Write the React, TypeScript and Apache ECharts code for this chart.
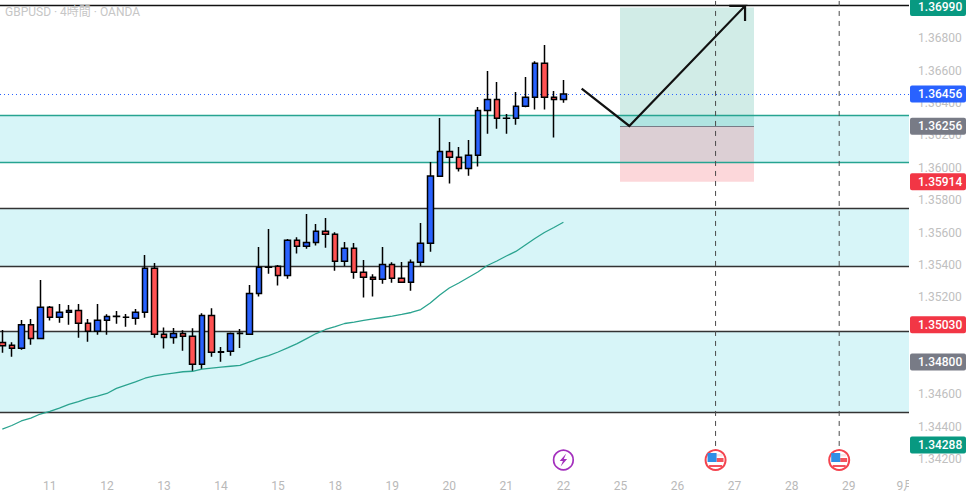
import React, { useEffect, useRef } from "react";
import * as echarts from "echarts";

const chartTitle = "GBPUSD · 4時間 · OANDA";
const dayTickLabels = ["11", "12", "13", "14", "15", "18", "19", "20", "21", "22", "25", "26", "27", "28", "29", "9月"];
const dayTickBars = [5, 11, 17, 23, 29, 35, 41, 47, 53, 59, 65, 71, 77, 83, 89, 95];
const priceTicks = [1.368, 1.366, 1.364, 1.362, 1.36, 1.358, 1.356, 1.354, 1.352, 1.346, 1.344, 1.342];

const opens = [
  1.3492, 1.34903, 1.34885, 1.35031, 1.34946, 1.35138, 1.35076, 1.35107, 1.35119, 1.35039,
  1.3499, 1.35058, 1.35082, 1.35076, 1.3507, 1.35107, 1.35379, 1.34971, 1.34952, 1.34977,
  1.34959, 1.34786, 1.35088, 1.3486, 1.34866, 1.34977, 1.34971, 1.35224, 1.35385, 1.35391,
  1.35335, 1.35552, 1.35515, 1.35539, 1.35607, 1.35589, 1.35422, 1.35502, 1.35354, 1.35323,
  1.35311, 1.35403, 1.35317, 1.35292, 1.35416, 1.35533, 1.35947, 1.36101, 1.36064, 1.35996,
  1.36077, 1.36354, 1.36422, 1.36305, 1.36305, 1.36379, 1.36435, 1.36645, 1.36435, 1.36422,
];
const closes = [
  1.34901, 1.34885, 1.35031, 1.34946, 1.35138, 1.35076, 1.35107, 1.35119, 1.35039, 1.3499,
  1.35058, 1.35082, 1.35083, 1.35077, 1.35107, 1.35379, 1.34971, 1.34952, 1.34977, 1.34959,
  1.34786, 1.35088, 1.3486, 1.34864, 1.34977, 1.34978, 1.35224, 1.35385, 1.35386, 1.35335,
  1.35552, 1.35515, 1.35539, 1.35607, 1.35589, 1.35422, 1.35502, 1.35354, 1.35323, 1.35311,
  1.35403, 1.35317, 1.35292, 1.35416, 1.35533, 1.35949, 1.36101, 1.36064, 1.35996, 1.36077,
  1.36354, 1.36422, 1.36305, 1.36306, 1.36379, 1.36435, 1.36645, 1.36435, 1.36422, 1.36456,
];
const lows = [
  1.34858, 1.34833, 1.34876, 1.34907, 1.34946, 1.35056, 1.35043, 1.35031, 1.3495, 1.34926,
  1.34969, 1.34969, 1.35037, 1.35018, 1.35031, 1.35074, 1.3495, 1.34883, 1.34913, 1.3487,
  1.34745, 1.34757, 1.34833, 1.34802, 1.34839, 1.34887, 1.34971, 1.35204, 1.35346, 1.35272,
  1.35315, 1.35471, 1.355, 1.35519, 1.35506, 1.35364, 1.35391, 1.35315, 1.35198, 1.35204,
  1.35284, 1.3529, 1.35292, 1.35241, 1.35393, 1.35481, 1.35947, 1.35902, 1.35976, 1.35951,
  1.36007, 1.3621, 1.36241, 1.3621, 1.36266, 1.36373, 1.36359, 1.36359, 1.36186, 1.36402,
];
const highs = [
  1.34998, 1.34922, 1.3506, 1.35066, 1.35307, 1.35146, 1.35158, 1.35152, 1.35158, 1.35066,
  1.35158, 1.35095, 1.35115, 1.35097, 1.35127, 1.35461, 1.35412, 1.35014, 1.3501, 1.34996,
  1.35008, 1.35101, 1.35132, 1.34893, 1.34983, 1.35004, 1.35276, 1.3551, 1.35622, 1.35399,
  1.3556, 1.3557, 1.35714, 1.35653, 1.3569, 1.35601, 1.35541, 1.35535, 1.3543, 1.35342,
  1.3551, 1.35416, 1.35418, 1.35434, 1.35659, 1.36035, 1.36307, 1.36159, 1.36128, 1.36171,
  1.36375, 1.36597, 1.36529, 1.36332, 1.36468, 1.3656, 1.36657, 1.36758, 1.36474, 1.36542,
];
const movingAverage = [
  1.34386, 1.34408, 1.34436, 1.34454, 1.34479, 1.34495, 1.34516, 1.34538, 1.34556, 1.34575,
  1.3459, 1.34606, 1.34637, 1.34658, 1.34677, 1.347, 1.34714, 1.34724, 1.34732, 1.3474,
  1.34743, 1.34756, 1.34762, 1.34768, 1.34774, 1.3478, 1.34801, 1.34822, 1.3484, 1.34862,
  1.34887, 1.34914, 1.34945, 1.34976, 1.35001, 1.35019, 1.35038, 1.35047, 1.35057, 1.35066,
  1.35075, 1.35084, 1.35094, 1.35106, 1.35124, 1.35165, 1.35214, 1.35257, 1.35288, 1.35322,
  1.35356, 1.35396, 1.35424, 1.35455, 1.35483, 1.35523, 1.35563, 1.356, 1.35631, 1.35663,
];

const topLine = 1.37003;
const tealZone = [1.36324, 1.36034];
const darkZones = [
  [1.3575, 1.35391],
  [1.3499, 1.3449],
];
const lastPrice = 1.36456;
const positionPrices = { target: 1.3699, entry: 1.36256, stop: 1.35914 };
const positionBars = [64.95, 79.04];
const arrowPath = [
  [60.92, 1.36488],
  [65.93, 1.36258],
  [78.1, 1.36999],
  [76.44, 1.36999],
  [78.1, 1.36999],
  [78.1, 1.36906],
];
const eventBars = [59, 75, 88];
const eventKinds = ["bolt", "flag", "flag"];
const eventPrice = 1.34195;
const eventLineTop = 1.3703;
const eventLineBottom = 1.34263;
const badges = [
  { value: 1.3699, color: "#089981" },
  { value: 1.36456, color: "#2962ff" },
  { value: 1.36256, color: "#787b86" },
  { value: 1.35914, color: "#f23645" },
  { value: 1.3503, color: "#f23645" },
  { value: 1.348, color: "#787b86" },
  { value: 1.34288, color: "#089981" },
];

const FONT = 'Roboto, "Noto Sans CJK JP", sans-serif';
const boltPath = "M3 -7 L-4 1 L-0.5 1 L-3 7 L4 -1 L0.5 -1 Z";

function renderEvent(params: any, api: any) {
  const [cx, cy] = api.coord([api.value(0), api.value(1)]);
  const kind = eventKinds[params.dataIndex];
  if (kind === "bolt") {
    return {
      type: "group",
      x: cx,
      y: cy,
      children: [
        { type: "circle", shape: { cx: 0, cy: 0, r: 9.8 }, style: { fill: "#fff", stroke: "#a32fbd", lineWidth: 1.7 } },
        { type: "path", shape: { pathData: boltPath, x: -4.5, y: -6.5, width: 9, height: 13 }, style: { fill: "#a32fbd" } },
      ],
    };
  }
  return {
    type: "group",
    x: cx,
    y: cy,
    children: [
      { type: "circle", shape: { cx: 0, cy: 0, r: 10 }, style: { fill: "#fff", stroke: "#f4444f", lineWidth: 2 } },
      { type: "rect", shape: { x: 0, y: -6, width: 7, height: 2.5 }, style: { fill: "#fbe3e5" } },
      { type: "rect", shape: { x: 1, y: -2, width: 7, height: 4 }, style: { fill: "#f4525c" } },
      { type: "rect", shape: { x: -6.5, y: 5, width: 13, height: 2 }, style: { fill: "#f4525c" } },
      { type: "rect", shape: { x: -8, y: -7, width: 9, height: 9 }, style: { fill: "#2f8fe6" } },
    ],
  };
}

export default function App() {
  const ref = useRef<HTMLDivElement>(null);
  useEffect(() => {
    const chart = echarts.init(ref.current!, undefined, { renderer: "svg" });
    const emptySeries = { type: "line", data: [], symbol: "none", silent: true };
    chart.setOption({
      animation: false,
      backgroundColor: "#ffffff",
      title: {
        text: chartTitle,
        left: 5,
        top: 6,
        padding: 0,
        textStyle: { color: "#c6c6c6", fontSize: 12, fontWeight: "normal", fontFamily: FONT },
      },
      grid: { left: 0, top: 0, width: 909, height: 468, containLabel: false },
      xAxis: {
        type: "value",
        min: -0.2418,
        max: 95.34,
        axisLine: { show: false },
        axisTick: { show: false },
        splitLine: { show: false },
        axisLabel: {
          customValues: dayTickBars,
          formatter: (v: number) => dayTickLabels[dayTickBars.indexOf(v)] ?? "",
          color: "#b9b9b9",
          fontSize: 12,
          fontFamily: FONT,
          margin: 12,
          hideOverlap: false,
          showMaxLabel: true,
        },
      },
      yAxis: {
        type: "value",
        position: "right",
        min: 1.341456,
        max: 1.370359,
        axisLine: { show: false },
        axisTick: { show: false },
        splitLine: { show: false },
        axisLabel: {
          customValues: priceTicks,
          formatter: (v: number) => v.toFixed(5),
          color: "#c0c0c0",
          fontSize: 12,
          fontFamily: FONT,
          margin: 9,
        },
      },
      graphic: [
        { type: "rect", z: 100, shape: { x: 909, y: 470, width: 60, height: 30 }, style: { fill: "#ffffff" } },
      ],
      series: [
        {
          ...emptySeries,
          z: 1,
          markArea: {
            silent: true,
            z: 0,
            precision: 6,
            itemStyle: { color: "#d7f5f8" },
            data: [tealZone, ...darkZones].map(([a, b]) => [{ yAxis: a }, { yAxis: b }]),
          },
          markLine: {
            silent: true,
            z: 1,
            precision: 6,
            symbol: "none",
            label: { show: false },
            data: [
              { yAxis: topLine, lineStyle: { color: "#111", width: 1.3, type: "solid" } },
              ...tealZone.map((v) => ({ yAxis: v, lineStyle: { color: "#26a491", width: 1.3, type: "solid" } })),
              ...darkZones.flat().map((v) => ({ yAxis: v, lineStyle: { color: "#333", width: 1.3, type: "solid" } })),
            ],
          },
        },
        {
          ...emptySeries,
          z: 1,
          markArea: {
            silent: true,
            z: 1,
            precision: 6,
            data: [
              [
                { xAxis: positionBars[0], yAxis: positionPrices.target, itemStyle: { color: "rgba(8,153,129,0.19)" } },
                { xAxis: positionBars[1], yAxis: positionPrices.entry },
              ],
              [
                { xAxis: positionBars[0], yAxis: positionPrices.entry, itemStyle: { color: "rgba(242,54,69,0.2)" } },
                { xAxis: positionBars[1], yAxis: positionPrices.stop },
              ],
            ],
          },
          markLine: {
            silent: true,
            z: 1,
            precision: 6,
            symbol: "none",
            label: { show: false },
            lineStyle: { color: "#787b86", width: 1, type: "solid" },
            data: [[
              { xAxis: positionBars[0], yAxis: positionPrices.entry },
              { xAxis: positionBars[1], yAxis: positionPrices.entry },
            ]],
          },
        },
        {
          ...emptySeries,
          z: 2,
          markLine: {
            silent: true,
            z: 2,
            precision: 6,
            symbol: "none",
            label: { show: false },
            lineStyle: { color: "#2962ff", width: 1, type: [1, 3] },
            data: [{ yAxis: lastPrice }],
          },
        },
        {
          type: "candlestick",
          z: 3,
          barWidth: 6,
          encode: { x: 0, y: [1, 2, 3, 4] },
          data: opens.map((o, i) => [i, o, closes[i], lows[i], highs[i]]),
          itemStyle: {
            color: "#2962ff",
            color0: "#ff5252",
            borderColor: "#000",
            borderColor0: "#000",
            borderColorDoji: "#000",
            borderWidth: 1.5,
          },
        },
        {
          type: "line",
          z: 4,
          data: movingAverage.map((v, i) => [i, v]),
          symbol: "none",
          lineStyle: { color: "#2aa38f", width: 1.3 },
        },
        ...eventBars.slice(1).map((x) => ({
          type: "line",
          z: 5,
          symbol: "none",
          data: [[x, eventLineTop], [x, eventLineBottom]],
          lineStyle: { color: "#4a4a4a", width: 1, type: [5, 5] },
        })),
        {
          type: "line",
          z: 6,
          symbol: "none",
          data: arrowPath,
          lineStyle: { color: "#111", width: 2.2, join: "miter", cap: "butt" },
        },
        {
          type: "custom",
          z: 7,
          clip: false,
          renderItem: renderEvent,
          data: eventBars.map((x) => [x, eventPrice]),
        },
        {
          ...emptySeries,
          z: 20,
          markLine: {
            silent: true,
            z: 20,
            precision: 6,
            symbol: "none",
            lineStyle: { color: "rgba(0,0,0,0)", width: 0 },
            data: badges.map((b) => ({
              yAxis: b.value,
              label: {
                show: true,
                position: "end",
                distance: 1,
                formatter: b.value.toFixed(5),
                color: "#fff",
                fontSize: 12,
                fontWeight: 500,
                fontFamily: FONT,
                backgroundColor: b.color,
                borderRadius: 2,
                width: 48,
                height: 17,
                lineHeight: 17,
                padding: [0, 0, 0, 8],
                align: "left",
              },
            })),
          },
        },
      ],
    });
    return () => chart.dispose();
  }, []);
  return <div ref={ref} style={{ position: "absolute", left: 0, top: 0, width: 968, height: 500 }} />;
}
